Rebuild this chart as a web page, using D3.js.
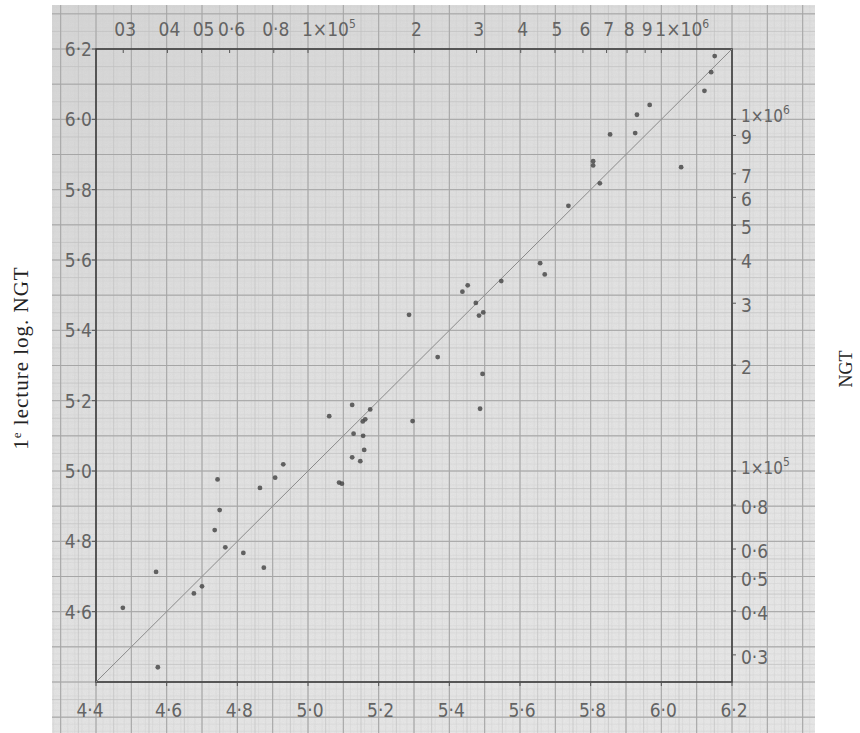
<!DOCTYPE html>
<html>
<head>
<meta charset="utf-8">
<script src="https://cdn.jsdelivr.net/npm/d3@7"></script>
<style>
  body { margin: 0; background: #fff; }
  svg { display: block; }
</style>
</head>
<body>
<svg id="chart"></svg>
<script>
// log10 NGT (x) against first reading log NGT (y)
const logNGT = [
    4.930, 4.907, 4.744, 4.864, 4.750, 4.736, 4.766, 4.817, 4.875, 4.570,
    4.700, 4.677, 4.476, 4.575,
    5.452, 5.437, 5.547, 5.475, 5.496, 5.484, 5.286, 5.367, 5.494, 5.487,
    5.125, 5.176, 5.060, 5.162, 5.155, 5.296, 5.129, 5.156, 5.159, 5.125,
    5.148, 5.088, 5.096,
    6.151, 6.141, 6.122, 5.967, 5.931, 5.855, 5.926, 5.807, 5.807, 6.056,
    5.826, 5.737, 5.657, 5.670
];
const firstReading = [
    5.019, 4.981, 4.976, 4.952, 4.889, 4.832, 4.783, 4.767, 4.725, 4.713,
    4.672, 4.652, 4.611, 4.442,
    5.528, 5.510, 5.540, 5.478, 5.451, 5.442, 5.444, 5.324, 5.276, 5.177,
    5.188, 5.175, 5.156, 5.147, 5.141, 5.142, 5.106, 5.100, 5.060, 5.039,
    5.028, 4.967, 4.964,
    6.180, 6.134, 6.081, 6.041, 6.013, 5.957, 5.961, 5.881, 5.869, 5.864,
    5.818, 5.754, 5.591, 5.559
];

const bottomTicks = [4.4, 4.6, 4.8, 5.0, 5.2, 5.4, 5.6, 5.8, 6.0, 6.2];
const leftTicks = [4.6, 4.8, 5.0, 5.2, 5.4, 5.6, 5.8, 6.0, 6.2];

const topTicks = [3e4, 4e4, 5e4, 6e4, 8e4, 1e5, 2e5, 3e5, 4e5, 5e5, 6e5, 7e5, 8e5, 9e5, 1e6];
const topLabels = ["03", "04", "05", "0·6", "0·8", "1×10|5", "2", "3", "4", "5", "6", "7", "8", "9", "1×10|6"];

const rightTicks = [1e6, 9e5, 7e5, 6e5, 5e5, 4e5, 3e5, 2e5, 1e5, 8e4, 6e4, 5e4, 4e4, 3e4];
const rightLabels = ["1×10|6", "9", "7", "6", "5", "4", "3", "2", "1×10|5", "0·8", "0·6", "0·5", "0·4", "0·3"];

let width = 860;
let height = 733;
let margin = { top: 49, right: 128, bottom: 51, left: 96 };

let svg = d3.select("#chart")
    .attr("width", width)
    .attr("height", height);

// scales
let xScale = d3.scaleLinear()
    .domain([4.4, 6.2])
    .range([margin.left, width - margin.right]);

let yScale = d3.scaleLinear()
    .domain([4.4, 6.2])
    .range([height - margin.bottom, margin.top]);

let xNGT = d3.scaleLog()
    .domain([Math.pow(10, 4.4), Math.pow(10, 6.2)])
    .range(xScale.range());

let yNGT = d3.scaleLog()
    .domain([Math.pow(10, 4.4), Math.pow(10, 6.2)])
    .range(yScale.range());

// graph paper
let paper = { x0: 52, x1: 815, y0: 5, y1: 733 };

let defs = svg.append("defs");
let grad = defs.append("linearGradient")
    .attr("id", "paperGrad")
    .attr("x1", "0").attr("y1", "0").attr("x2", "0.6").attr("y2", "1");
grad.append("stop").attr("offset", "0").attr("stop-color", "#d6d6d6");
grad.append("stop").attr("offset", "0.5").attr("stop-color", "#e2e2e2");
grad.append("stop").attr("offset", "1").attr("stop-color", "#e8e8e8");

let noise = defs.append("filter").attr("id", "grain");
noise.append("feTurbulence")
    .attr("type", "fractalNoise")
    .attr("baseFrequency", "0.9")
    .attr("numOctaves", 2)
    .attr("seed", 3);
noise.append("feColorMatrix")
    .attr("type", "matrix")
    .attr("values", "0 0 0 0 0.5  0 0 0 0 0.5  0 0 0 0 0.5  0 0 0 0.18 0");
noise.append("feComposite").attr("in2", "SourceGraphic").attr("operator", "in");

svg.append("rect")
    .attr("x", paper.x0).attr("y", paper.y0)
    .attr("width", paper.x1 - paper.x0).attr("height", paper.y1 - paper.y0)
    .attr("fill", "url(#paperGrad)");

svg.append("rect")
    .attr("x", paper.x0).attr("y", paper.y0)
    .attr("width", paper.x1 - paper.x0).attr("height", paper.y1 - paper.y0)
    .attr("fill", "#fff")
    .attr("filter", "url(#grain)");

let gxMin = xScale.invert(paper.x0), gxMax = xScale.invert(paper.x1);
let gyMin = yScale.invert(paper.y1), gyMax = yScale.invert(paper.y0);

function gridLines(step, color, w) {
    let g = svg.append("g").attr("stroke", color).attr("stroke-width", w);
    let xs = d3.range(Math.ceil((gxMin - 4.4) / step), Math.floor((gxMax - 4.4) / step) + 1)
        .map(k => 4.4 + k * step);
    let ys = d3.range(Math.ceil((gyMin - 4.4) / step), Math.floor((gyMax - 4.4) / step) + 1)
        .map(k => 4.4 + k * step);
    g.selectAll(".v").data(xs).enter().append("line")
        .attr("x1", d => xScale(d)).attr("x2", d => xScale(d))
        .attr("y1", paper.y0).attr("y2", paper.y1);
    g.selectAll(".h").data(ys).enter().append("line")
        .attr("y1", d => yScale(d)).attr("y2", d => yScale(d))
        .attr("x1", paper.x0).attr("x2", paper.x1);
}
gridLines(0.02, "#d3d3d3", 0.5);
gridLines(0.05, "#c0c0c0", 0.7);
gridLines(0.1, "#a6a6a6", 1);

// frame
svg.append("rect")
    .attr("x", xScale(4.4)).attr("y", yScale(6.2))
    .attr("width", xScale(6.2) - xScale(4.4))
    .attr("height", yScale(4.4) - yScale(6.2))
    .attr("fill", "none")
    .attr("stroke", "#3c3c3c")
    .attr("stroke-width", 1.6);

// y = x line
svg.append("line")
    .attr("x1", xScale(4.4)).attr("y1", yScale(4.4))
    .attr("x2", xScale(6.2)).attr("y2", yScale(6.2))
    .attr("stroke", "#8a8a8a")
    .attr("stroke-width", 1);

// tick marks
let tickG = svg.append("g").attr("stroke", "#555").attr("stroke-width", 1);
tickG.selectAll(".tl").data(leftTicks).enter().append("line")
    .attr("x1", xScale(4.4) - 4).attr("x2", xScale(4.4))
    .attr("y1", d => yScale(d)).attr("y2", d => yScale(d));
tickG.selectAll(".tb").data(bottomTicks).enter().append("line")
    .attr("y1", yScale(4.4)).attr("y2", yScale(4.4) + 4)
    .attr("x1", d => xScale(d)).attr("x2", d => xScale(d));
tickG.selectAll(".tt").data(topTicks).enter().append("line")
    .attr("y1", yScale(6.2)).attr("y2", yScale(6.2) + 4)
    .attr("x1", d => xNGT(d)).attr("x2", d => xNGT(d));
tickG.selectAll(".tr").data(rightTicks).enter().append("line")
    .attr("x1", xScale(6.2)).attr("x2", xScale(6.2) + 4)
    .attr("y1", d => yNGT(d)).attr("y2", d => yNGT(d));

// labels
let numFont = "'DejaVu Sans Condensed', 'DejaVu Sans', sans-serif";
function fmt(v) { return v.toFixed(1).replace(".", "·"); }

function powLabel(sel, s) {
    let parts = s.split("|");
    sel.text(parts[0]);
    if (parts.length > 1) {
        sel.append("tspan").attr("dy", -8).attr("font-size", 12).text(parts[1]);
    }
}

let labG = svg.append("g")
    .attr("font-family", numFont)
    .attr("font-weight", 300)
    .attr("font-size", 19)
    .attr("fill", "#646464");

labG.selectAll(".ll").data(leftTicks).enter().append("text")
    .attr("x", xScale(4.4) - 4)
    .attr("y", d => yScale(d) + 7)
    .attr("text-anchor", "end")
    .text(d => fmt(d));

labG.selectAll(".bl").data(bottomTicks).enter().append("text")
    .attr("x", (d, i) => xScale(d) + (i === 0 ? -6 : 2))
    .attr("y", yScale(4.4) + 35)
    .attr("text-anchor", "middle")
    .text(d => fmt(d));

labG.selectAll(".tl2").data(topTicks).enter().append("text")
    .attr("x", (d, i) => topLabels[i].includes("|") ? xNGT(d) - 6 : xNGT(d) + 2)
    .attr("y", 36)
    .attr("text-anchor", (d, i) => topLabels[i].includes("|") ? "start" : "middle")
    .each(function(d, i) { powLabel(d3.select(this), topLabels[i]); });

labG.selectAll(".rl").data(rightTicks).enter().append("text")
    .attr("x", xScale(6.2) + 9)
    .attr("y", (d, i) => yNGT(d) + (rightLabels[i].includes("|") ? 3 : 9))
    .attr("font-size", (d, i) => rightLabels[i].includes("|") ? 17 : 19)
    .attr("text-anchor", "start")
    .each(function(d, i) { powLabel(d3.select(this), rightLabels[i]); });

// axis titles
svg.append("text")
    .attr("transform", `translate(28, 358) rotate(-90)`)
    .attr("text-anchor", "middle")
    .attr("font-family", "'Liberation Serif', 'DejaVu Serif', serif")
    .attr("font-size", 21)
    .attr("letter-spacing", 1)
    .attr("fill", "#222")
    .html("1<tspan dy='-7' font-size='13'>e</tspan><tspan dy='7'> lecture log. NGT</tspan>");

svg.append("text")
    .attr("transform", `translate(852, 369) rotate(-90)`)
    .attr("text-anchor", "middle")
    .attr("font-family", "'Liberation Serif', 'DejaVu Serif', serif")
    .attr("font-size", 18)
    .attr("fill", "#222")
    .text("NGT");

// points
svg.append("g").selectAll("circle")
    .data(logNGT)
    .enter().append("circle")
    .attr("cx", d => xScale(d))
    .attr("cy", (d, i) => yScale(firstReading[i]))
    .attr("r", 2.4)
    .attr("fill", "#4a4a4a")
    .attr("opacity", 0.85);
</script>
</body>
</html>
